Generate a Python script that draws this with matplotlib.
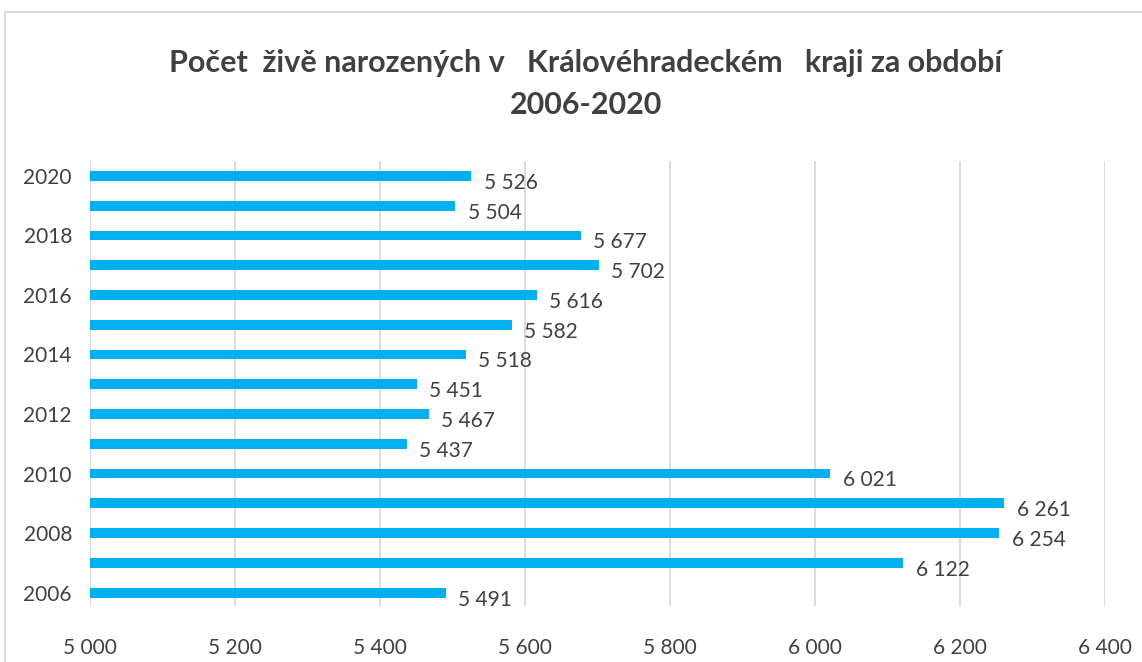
import matplotlib.pyplot as plt
from matplotlib.patches import Rectangle
from matplotlib import font_manager

# data
years = [2006, 2007, 2008, 2009, 2010, 2011, 2012, 2013, 2014, 2015, 2016, 2017, 2018, 2019, 2020]
births = [5491, 6122, 6254, 6261, 6021, 5437, 5467, 5451, 5518, 5582, 5616, 5702, 5677, 5504, 5526]
year_labels = [2006, 2008, 2010, 2012, 2014, 2016, 2018, 2020]
x_ticks = [5000, 5200, 5400, 5600, 5800, 6000, 6200, 6400]

title = 'Počet  živě narozených v   Královéhradeckém   kraji za období\n2006-2020'

def fmt(v):
    return f'{v:,}'.replace(',', ' ')

names = {f.name for f in font_manager.fontManager.ttflist}
body_font = 'Lato' if 'Lato' in names else 'DejaVu Sans'

bar_color = '#00B0F0'
text_color = '#404040'
grid_color = '#d9d9d9'

fig = plt.figure(figsize=(11.42, 6.62), dpi=100)
ax = fig.add_axes([90 / 1142, 1 - 606 / 662, (1105 - 90) / 1142, (606 - 161) / 662])

ax.barh(years, [b - 5000 for b in births], left=5000, height=0.33, color=bar_color, zorder=3)

for y, b in zip(years, births):
    ax.annotate(fmt(b), (b, y), xytext=(9, -5), textcoords='offset points',
                ha='left', va='center', fontsize=15, color=text_color, family=body_font)

ax.set_xlim(5000, 6400)
ax.set_ylim(2005.55, 2020.5)
ax.set_xticks(x_ticks)
ax.set_xticklabels([fmt(t) for t in x_ticks], fontsize=15, color=text_color, family=body_font)
ax.set_yticks(year_labels)
ax.set_yticklabels([str(y) for y in year_labels], fontsize=15, color=text_color, family=body_font)
ax.tick_params(axis='x', length=0, pad=23)
ax.tick_params(axis='y', length=0, pad=13)
ax.grid(axis='x', color=grid_color, lw=1.3, zorder=0)
for s in ax.spines.values():
    s.set_visible(False)

fig.text(586 / 1142, 1 - 84 / 662, title, ha='center', va='center', fontsize=22,
         fontweight='bold', color=text_color, family=body_font, linespacing=1.6)

# outer chart border
fig.patches.append(Rectangle((5 / 1142, -0.05), 1.1, 1 - 12 / 662 + 0.05,
                             transform=fig.transFigure, fill=False,
                             edgecolor=grid_color, lw=1.5))

fig.savefig('out.png', dpi=100)
